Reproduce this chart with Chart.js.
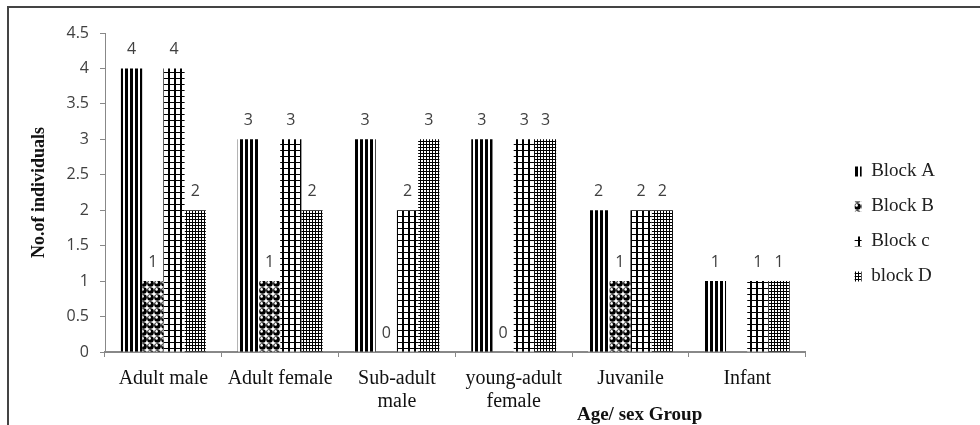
<!DOCTYPE html>
<html><head><meta charset="utf-8">
<script src="https://cdn.jsdelivr.net/npm/chart.js@4.4.1/dist/chart.umd.min.js"></script>
<style>
html,body{margin:0;padding:0;background:#fff;}
#wrap{position:relative;width:980px;height:425px;}
#frame{position:absolute;left:7px;top:6px;right:0;bottom:0;border-top:2px solid #444;border-left:2px solid #444;pointer-events:none;}
</style></head><body>
<div id="wrap"><canvas id="c"></canvas><div id="frame"></div></div>
<script>
const categories = [['Adult male'], ['Adult female'], ['Sub-adult', 'male'], ['young-adult', 'female'], ['Juvanile'], ['Infant']];
const seriesNames = ['Block A', 'Block B', 'Block c', 'block D'];
const blockA = [4, 3, 3, 3, 2, 1];
const blockB = [1, 1, 0, 0, 1, null];
const blockC = [4, 3, 2, 3, 2, 1];
const blockD = [2, 2, 3, 3, 2, 1];
const yTickLabels = ['0', '0.5', '1', '1.5', '2', '2.5', '3', '3.5', '4', '4.5'];
const yAxisTitle = 'No.of individuals';
const xAxisTitle = 'Age/ sex Group';

function makePattern(w, h, draw) {
  const c = document.createElement('canvas');
  c.width = w; c.height = h;
  const g = c.getContext('2d');
  g.fillStyle = '#fff'; g.fillRect(0, 0, w, h);
  g.fillStyle = '#000';
  draw(g);
  return g.createPattern(c, 'repeat');
}
const patA = makePattern(5, 4, g => { g.fillRect(0, 0, 3, 4); });
const patB = makePattern(7, 7, g => {
  g.beginPath(); g.arc(3.5, 3.5, 3.3, 0, Math.PI * 2); g.fill();
  g.fillStyle = '#fff'; g.beginPath(); g.arc(2.6, 2.4, 1.3, 0, Math.PI * 2); g.fill();
});
const patC = makePattern(6, 6, g => { g.fillRect(0, 0, 6, 1); g.fillRect(0, 0, 2, 6); });
const patD = makePattern(3, 3, g => { g.fillRect(0, 0, 3, 1); g.fillRect(0, 0, 1, 3); });
const patterns = [patA, patB, patC, patD];
const seriesValues = [blockA, blockB, blockC, blockD];

const valueLabels = {
  id: 'valueLabels',
  afterDatasetsDraw(chart) {
    const ctx = chart.ctx;
    ctx.save();
    ctx.font = '16px "Open Sans"';
    ctx.fillStyle = '#404040';
    ctx.textAlign = 'center';
    ctx.textBaseline = 'middle';
    chart.data.datasets.forEach((ds, i) => {
      const meta = chart.getDatasetMeta(i);
      meta.data.forEach((el, j) => {
        const v = ds.data[j];
        if (v === null || v === undefined) return;
        ctx.fillText(String(v), el.x, el.y - 19);
      });
    });
    ctx.restore();
  }
};
const xTitle = {
  id: 'xTitle',
  afterDraw(chart) {
    const { ctx, chartArea: a } = chart;
    ctx.save();
    ctx.font = 'bold 19px "Liberation Serif"';
    ctx.fillStyle = '#111';
    ctx.textAlign = 'center';
    ctx.textBaseline = 'middle';
    ctx.fillText(xAxisTitle, a.left + (a.right - a.left) * 0.763, chart.height - 10);
    ctx.restore();
  }
};

new Chart(document.getElementById('c'), {
  type: 'bar',
  data: {
    labels: categories,
    datasets: seriesNames.map((n, i) => ({
      label: n,
      data: seriesValues[i],
      backgroundColor: patterns[i],
      borderWidth: 0,
      categoryPercentage: 0.727,
      barPercentage: 1.0
    }))
  },
  options: {
    responsive: true,
    maintainAspectRatio: false,
    animation: false,
    layout: { padding: { left: 8, top: 33, right: 35, bottom: 10 } },
    plugins: {
      tooltip: { enabled: false },
      legend: {
        position: 'right', align: 'center',
        labels: { boxWidth: 7, boxHeight: 10, padding: 16, color: '#222', font: { family: '"Liberation Serif"', size: 19 } }
      }
    },
    scales: {
      x: {
        grid: { display: true, drawOnChartArea: false, drawTicks: true, tickLength: 5, color: '#888', offset: true },
        border: { display: true, color: '#888', width: 2 },
        ticks: { color: '#111', font: { family: '"Liberation Serif"', size: 20, lineHeight: 1.15 }, padding: 10, maxRotation: 0, autoSkip: false },
        afterFit: s => { s.height = 63; }
      },
      y: {
        min: 0, max: 4.5,
        ticks: { stepSize: 0.5, color: '#404040', font: { family: '"Open Sans"', size: 16 }, padding: 11, callback: (v, i) => yTickLabels[i] },
        grid: { display: true, drawOnChartArea: false, drawTicks: true, tickLength: 5, color: '#888' },
        border: { display: true, color: '#888', width: 1 },
        title: { display: true, text: yAxisTitle, color: '#111', font: { family: '"Liberation Serif"', size: 18, weight: 'bold' }, padding: { top: 21, bottom: 0 } },
        afterFit: s => { s.width = 97; }
      },
      yPad: {
        type: 'linear', position: 'right', display: true,
        grid: { display: false }, border: { display: false }, ticks: { display: false },
        afterFit: s => { s.width = 33; }
      }
    }
  },
  plugins: [valueLabels, xTitle]
});
</script>
</body></html>
